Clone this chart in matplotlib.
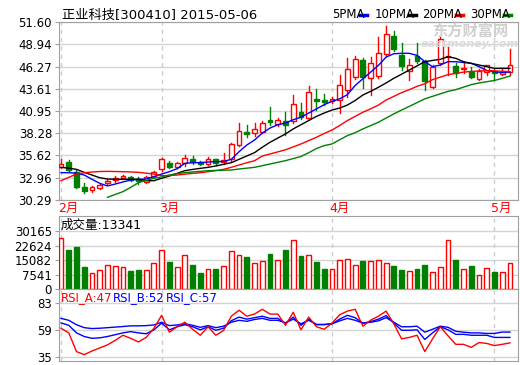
import matplotlib
matplotlib.use("Agg")
import matplotlib.pyplot as plt
from matplotlib.patches import Rectangle
from matplotlib.lines import Line2D

plt.rcParams["font.family"] = ["DejaVu Sans", "Noto Sans CJK SC"]

# daily candles, 2015-02-04 .. 2015-05-06
opens = [34.20, 34.80, 33.68, 31.85, 31.45, 31.76, 32.33, 32.65, 32.92, 33.08,
         32.80, 32.41, 33.16, 34.00, 34.68, 34.20, 34.76, 35.20, 34.88, 34.60,
         35.16, 34.80, 35.16, 36.91, 38.47, 38.31, 38.47, 39.87, 39.39, 39.78,
         39.70, 40.86, 40.07, 42.42, 42.30, 42.10, 42.26, 43.46, 44.97, 47.05,
         44.86, 45.13, 47.77, 49.92, 47.61, 45.77, 47.53, 46.89, 43.78, 46.65,
         47.45, 46.33, 45.95, 45.65, 44.82, 45.65, 45.77, 45.40, 45.60]
closes = [34.60, 33.88, 31.81, 31.40, 31.88, 32.05, 32.56, 32.89, 33.12, 32.68,
          32.60, 33.04, 33.64, 35.16, 34.20, 34.68, 35.36, 34.84, 34.64, 35.24,
          34.68, 35.08, 36.96, 38.59, 38.20, 38.79, 39.47, 39.60, 39.87, 39.23,
          41.78, 40.26, 43.22, 42.10, 42.00, 42.42, 44.06, 45.97, 47.13, 44.97,
          46.65, 47.93, 50.16, 48.33, 46.33, 46.41, 46.97, 44.50, 46.25, 49.53,
          47.53, 45.53, 46.05, 45.05, 45.69, 46.45, 45.45, 45.65, 46.45]
highs = [35.16, 35.08, 33.90, 32.29, 32.00, 32.20, 32.77, 33.16, 33.32, 33.20,
         33.04, 33.16, 33.72, 35.28, 34.96, 34.88, 35.64, 35.56, 35.00, 35.44,
         35.24, 35.95, 37.10, 39.47, 39.27, 39.47, 39.80, 41.46, 40.10, 40.82,
         42.86, 41.94, 43.94, 43.54, 43.00, 42.60, 45.25, 47.25, 47.53, 47.30,
         47.45, 49.77, 51.12, 50.56, 49.05, 47.20, 49.05, 47.05, 46.45, 49.84,
         48.73, 46.65, 46.65, 46.25, 45.93, 46.50, 46.00, 46.10, 48.33]
lows = [34.12, 33.80, 31.75, 31.09, 31.25, 31.60, 32.17, 32.48, 32.77, 32.60,
        32.20, 32.29, 33.00, 33.80, 34.08, 34.08, 34.36, 34.60, 34.48, 34.48,
        34.48, 34.60, 35.00, 36.75, 37.87, 37.95, 38.30, 39.27, 39.15, 38.07,
        39.50, 40.00, 40.00, 41.06, 41.70, 41.90, 40.67, 42.66, 44.80, 43.66,
        42.86, 44.90, 47.50, 48.10, 45.85, 44.66, 46.65, 43.46, 43.66, 46.40,
        45.25, 44.97, 45.53, 44.86, 44.66, 45.30, 44.66, 45.20, 45.30]
volumes = [26565, 20490, 22010, 11385, 8350, 9715, 12750, 12245, 11230, 9360,
           9870, 9715, 13760, 20340, 14070, 11740, 17810, 12400, 8350, 10220,
           10375, 12245, 19840, 17810, 16445, 13410, 14775, 18470, 15280, 20490,
           25400, 17460, 17810, 13915, 10375, 10220, 15280, 15790, 12750, 14420,
           14575, 15280, 13410, 11890, 9870, 9210, 10375, 12400, 8700, 11740,
           25400, 14930, 10220, 11890, 7185, 10730, 8855, 8700, 13341]

ma5 = [33.56, 33.56, 33.50, 33.28, 32.77, 32.29, 31.97, 32.20, 32.45, 32.68,
       32.77, 32.80, 33.08, 33.40, 33.68, 34.04, 34.68, 34.76, 34.76, 34.84,
       34.88, 34.90, 35.16, 36.07, 36.87, 37.47, 38.30, 38.90, 39.30, 39.50,
       39.90, 40.20, 40.70, 41.20, 41.70, 42.10, 42.40, 42.90, 44.00, 44.80,
       45.60, 46.40, 47.40, 47.80, 47.85, 47.85, 47.60, 46.85, 46.25, 46.45,
       46.85, 46.85, 46.75, 46.65, 46.25, 45.80, 45.65, 45.55, 45.60]
ma10 = [34.20, 34.10, 33.96, 33.60, 33.28, 32.96, 32.80, 32.77, 32.77, 32.77,
        32.77, 32.60, 32.60, 32.89, 33.16, 33.48, 33.80, 33.95, 34.08, 34.20,
        34.36, 34.56, 34.76, 35.16, 35.56, 35.96, 36.60, 37.20, 37.70, 38.20,
        38.80, 39.30, 39.80, 40.30, 40.70, 41.06, 41.30, 41.66, 42.20, 42.86,
        43.30, 43.78, 44.30, 44.86, 45.35, 45.85, 46.35, 46.85, 47.00, 47.13,
        47.45, 47.25, 46.85, 46.65, 46.45, 46.25, 46.05, 46.05, 46.05]
ma20 = [32.60, 33.00, 33.40, 33.55, 33.64, 33.70, 33.72, 33.70, 33.68, 33.65,
        33.60, 33.50, 33.40, 33.20, 33.22, 33.28, 33.38, 33.48, 33.55, 33.68,
        33.80, 33.96, 34.20, 34.48, 34.75, 34.99, 35.55, 35.80, 36.05, 36.30,
        36.65, 37.00, 37.40, 37.80, 38.25, 38.67, 39.20, 39.80, 40.30, 40.80,
        41.20, 41.65, 42.26, 42.70, 43.14, 43.50, 43.90, 44.20, 44.70, 45.00,
        45.30, 45.45, 45.60, 45.68, 45.74, 45.77, 45.75, 45.70, 45.65]
ma30 = [None] * 6 + [
        30.61, 30.95, 31.29, 31.80, 32.36, 32.65, 32.89, 33.05, 33.28, 33.45,
        33.56, 33.65, 33.72, 33.80, 33.83, 33.86, 33.88, 34.00, 34.10, 34.20,
        34.40, 34.60, 34.80, 35.00, 35.25, 35.50, 35.95, 36.45, 36.80, 37.00,
        37.50, 38.00, 38.35, 38.80, 39.20, 39.60, 40.10, 40.60, 41.06, 41.50,
        41.95, 42.40, 42.70, 43.00, 43.30, 43.50, 43.80, 44.10, 44.30, 44.45,
        44.60, 44.85, 45.13]

rsi_a = [60.4, 56.3, 39.8, 37.1, 40.3, 43.0, 45.7, 49.7, 54.2, 51.5,
         48.3, 52.3, 60.3, 71.8, 56.9, 61.7, 65.7, 59.5, 54.2, 61.7,
         54.2, 58.4, 71.0, 76.3, 71.0, 72.9, 77.1, 72.9, 72.9, 63.0,
         74.5, 59.0, 70.2, 61.7, 59.5, 64.9, 72.3, 75.5, 77.1, 62.2,
         67.5, 71.0, 75.5, 64.3, 51.0, 52.3, 54.2, 39.8, 51.0, 61.7,
         53.7, 46.2, 46.2, 43.5, 47.8, 47.0, 45.1, 46.2, 47.5]
rsi_b = [65.1, 63.0, 56.3, 53.1, 51.5, 51.9, 53.1, 54.7, 56.3, 57.4,
         56.3, 55.5, 59.0, 64.9, 59.0, 61.7, 63.5, 61.7, 59.0, 61.7,
         58.6, 60.4, 67.0, 70.2, 68.4, 69.7, 71.0, 69.1, 69.1, 64.9,
         70.2, 63.0, 68.4, 63.5, 63.5, 64.3, 68.4, 71.8, 69.7, 64.9,
         66.2, 68.4, 71.5, 64.9, 58.6, 58.6, 59.0, 50.5, 56.3, 61.7,
         59.0, 55.0, 55.0, 54.2, 54.2, 54.2, 52.3, 52.3, 52.3]
rsi_c = [69.1, 67.4, 63.5, 60.9, 60.1, 60.4, 60.9, 61.4, 61.9, 62.5,
         62.5, 62.7, 63.3, 65.7, 62.7, 63.3, 64.3, 63.0, 61.2, 62.7,
         60.9, 62.2, 65.7, 67.4, 66.5, 68.1, 69.1, 67.4, 67.4, 65.1,
         68.4, 64.3, 67.4, 63.8, 63.8, 64.3, 66.9, 69.1, 67.4, 64.9,
         65.7, 66.9, 69.7, 65.7, 61.7, 61.7, 62.2, 56.9, 59.5, 62.2,
         61.2, 57.7, 56.9, 56.3, 56.3, 55.8, 55.8, 57.0, 57.0]

price_ticks = [30.29, 32.96, 35.62, 38.28, 40.95, 43.61, 46.27, 48.94, 51.60]
vol_ticks = [0, 7541, 15082, 22624, 30165]
rsi_ticks = [35, 59, 83]
month_labels = ["2月", "3月", "4月", "5月"]
month_idx = [0, 13, 35, 56]

RED = "#ff0000"
GREEN = "#008000"
GRID = "#d4d4d4"
FRAME = "#a0a0a0"

n = len(closes)
xs = list(range(n))

fig = plt.figure(figsize=(5.2, 3.65), dpi=100)
W, H = 520, 365


def make_ax(top, bottom):
    return fig.add_axes([59 / W, 1 - bottom / H, 459 / W, (bottom - top) / H])


ax = make_ax(22, 200)
axv = make_ax(216, 289)
axr = make_ax(289, 361)

for a, ticks in ((ax, price_ticks), (axv, vol_ticks), (axr, rsi_ticks)):
    a.set_xlim(-0.26, 59.04)
    a.set_yticks(ticks)
    a.set_xticks([])
    for t in ticks:
        a.axhline(t, color=GRID, lw=1, zorder=0)
    for m in month_idx:
        a.axvline(m, color="#cccccc", lw=1, ls=(0, (3, 3)), zorder=0)
    for s in a.spines.values():
        s.set_color(FRAME)
    a.tick_params(axis="y", length=3, color=FRAME, labelsize=8.5, pad=2)

ax.set_ylim(30.29, 51.60)
ax.set_yticklabels(["%.2f" % t for t in price_ticks])
axv.set_ylim(0, 38100)
axv.set_yticklabels([str(t) for t in vol_ticks])
axr.set_ylim(31.5, 95)

# candles
bw = 0.62
for i in xs:
    o, c, h, l = opens[i], closes[i], highs[i], lows[i]
    if c >= o:
        ax.plot([i, i], [c, h], color=RED, lw=1, zorder=3)
        ax.plot([i, i], [l, o], color=RED, lw=1, zorder=3)
        ax.add_patch(Rectangle((i - bw / 2, o), bw, max(c - o, 0.02),
                               facecolor="white", edgecolor=RED, lw=1, zorder=4))
        axv.add_patch(Rectangle((i - bw / 2, 0), bw, volumes[i],
                                facecolor="white", edgecolor=RED, lw=1, zorder=3))
    else:
        ax.plot([i, i], [l, h], color=GREEN, lw=1, zorder=3)
        ax.add_patch(Rectangle((i - bw / 2, c), bw, o - c,
                               facecolor=GREEN, edgecolor=GREEN, lw=1, zorder=4))
        axv.add_patch(Rectangle((i - bw / 2, 0), bw, volumes[i],
                                facecolor=GREEN, edgecolor=GREEN, lw=1, zorder=3))

ax.plot(xs, ma5, color="#0000ff", lw=1, zorder=5)
ax.plot(xs, ma10, color="black", lw=1, zorder=5)
ax.plot(xs, ma20, color=RED, lw=1, zorder=5)
ax.plot(xs[6:], ma30[6:], color=GREEN, lw=1, zorder=5)

axr.plot(xs, rsi_c, color="#0000ff", lw=1, zorder=3)
axr.plot(xs, rsi_b, color="#0000ff", lw=1, zorder=3)
axr.plot(xs, rsi_a, color=RED, lw=1, zorder=4)

# texts
fig.text(62 / W, 1 - 15 / H, "正业科技[300410] 2015-05-06", fontsize=9.5,
         va="center", ha="left")
legend = [("5PMA", "#0000ff", 332), ("10PMA", "black", 375),
          ("20PMA", RED, 422), ("30PMA", GREEN, 470)]
for name, col, x0 in legend:
    fig.text(x0 / W, 1 - 15 / H, name, fontsize=8.5, va="center", ha="left")
    xe = x0 + 6.2 * len(name) + 3
    fig.add_artist(Line2D([xe / W, (xe + 7) / W], [1 - 15 / H, 1 - 15 / H],
                          color=col, lw=2.5, transform=fig.transFigure))

fig.text(470 / W, 1 - 31 / H, "东方财富网", fontsize=11, color="#d0d0d0",
         ha="center", va="center", fontweight="bold")
fig.text(470 / W, 1 - 44 / H, "eastmoney.com", fontsize=8, color="#dadada",
         ha="center", va="center", fontweight="bold", style="italic")

for lab, m in zip(month_labels, month_idx):
    xpix = 61 + 7.74 * m - 3
    fig.text(xpix / W, 1 - 208 / H, lab, fontsize=9, color=RED,
             ha="left", va="center")

fig.text(61 / W, 1 - 225 / H, "成交量:13341", fontsize=9, ha="left", va="center")

fig.text(61 / W, 1 - 298 / H, "RSI_A:47", fontsize=8.5, color=RED,
         ha="left", va="center")
fig.text(113 / W, 1 - 298 / H, "RSI_B:52", fontsize=8.5, color="#0000ff",
         ha="left", va="center")
fig.text(166 / W, 1 - 298 / H, "RSI_C:57", fontsize=8.5, color="#0000ff",
         ha="left", va="center")

fig.savefig("out.png", dpi=100)
